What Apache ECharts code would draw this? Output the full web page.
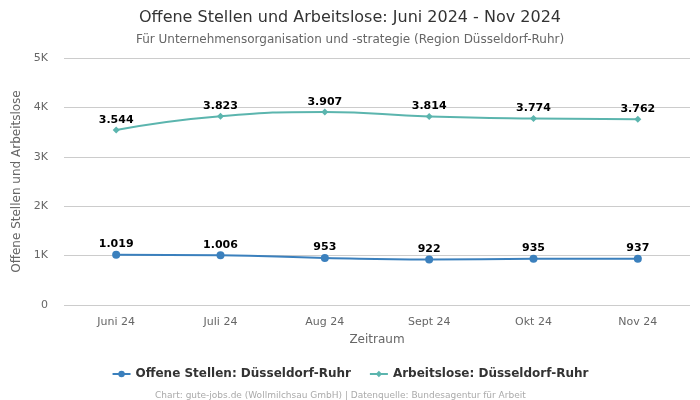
<!DOCTYPE html>
<html><head><meta charset="utf-8">
<script src="https://cdn.jsdelivr.net/npm/echarts@6/dist/echarts.min.js"></script>
<style>html,body{margin:0;padding:0;background:#fff}#c{width:700px;height:400px}</style>
</head><body><div id="c"></div>
<script>
const categories = ["Juni 24","Juli 24","Aug 24","Sept 24","Okt 24","Nov 24"];
const offeneStellen = [1019,1006,953,922,935,937];
const arbeitslose = [3544,3823,3907,3814,3774,3762];
const seriesNames = ["Offene Stellen: Düsseldorf-Ruhr","Arbeitslose: Düsseldorf-Ruhr"];
const F = "DejaVu Sans";
const fmt = v => v.toLocaleString('de-DE');
const chart = echarts.init(document.getElementById('c'), null, {renderer:'canvas'});
chart.setOption({
  animation:false,
  textStyle:{fontFamily:F},
  title:[{text:"Offene Stellen und Arbeitslose: Juni 2024 - Nov 2024",left:'center',top:5,textStyle:{fontFamily:F,fontSize:16,fontWeight:'normal',color:'#333'}},
         {text:"Für Unternehmensorganisation und -strategie (Region Düsseldorf-Ruhr)",left:'center',top:29,textStyle:{fontFamily:F,fontSize:12,fontWeight:'normal',color:'#666'}},
         {text:"Chart: gute-jobs.de (Wollmilchsau GmbH) | Datenquelle: Bundesagentur für Arbeit",left:150,top:386,textStyle:{fontFamily:F,fontSize:9,fontWeight:'normal',color:'#aaa'}}],
  legend:{top:363,left:'center',itemGap:18,itemWidth:18,itemHeight:8,textStyle:{fontFamily:F,fontSize:12,fontWeight:'bold',color:'#333'},data:seriesNames},
  grid:{left:64,right:10,top:58,bottom:95},
  xAxis:{type:'category',data:categories,boundaryGap:true,name:'Zeitraum',nameLocation:'middle',nameGap:29,nameTextStyle:{fontFamily:F,fontSize:12,color:'#666'},
    axisLine:{show:false},axisTick:{show:false},axisLabel:{fontFamily:F,fontSize:11,color:'#666',margin:12}},
  yAxis:{type:'value',min:0,max:5000,interval:1000,name:'Offene Stellen und Arbeitslose',nameLocation:'middle',nameGap:37,nameTextStyle:{fontFamily:F,fontSize:12,color:'#666'},
    axisLabel:{fontFamily:F,fontSize:11,color:'#666',margin:16,formatter:v=>v===0?'0':(v/1000)+'K'},splitLine:{lineStyle:{color:'#ccc'}}},
  series:[
    {name:seriesNames[0],type:'line',smooth:true,data:offeneStellen,symbol:'circle',symbolSize:8,color:'#3b80bd',lineStyle:{width:2},
     label:{show:true,position:'top',distance:1,fontFamily:F,fontSize:11,fontWeight:'bold',color:'#000',formatter:p=>fmt(p.value)}},
    {name:seriesNames[1],type:'line',smooth:true,data:arbeitslose,symbol:'diamond',symbolSize:7,color:'#5bb5ae',lineStyle:{width:2},
     label:{show:true,position:'top',distance:1,fontFamily:F,fontSize:11,fontWeight:'bold',color:'#000',formatter:p=>fmt(p.value)}}
  ]
});
</script></body></html>
